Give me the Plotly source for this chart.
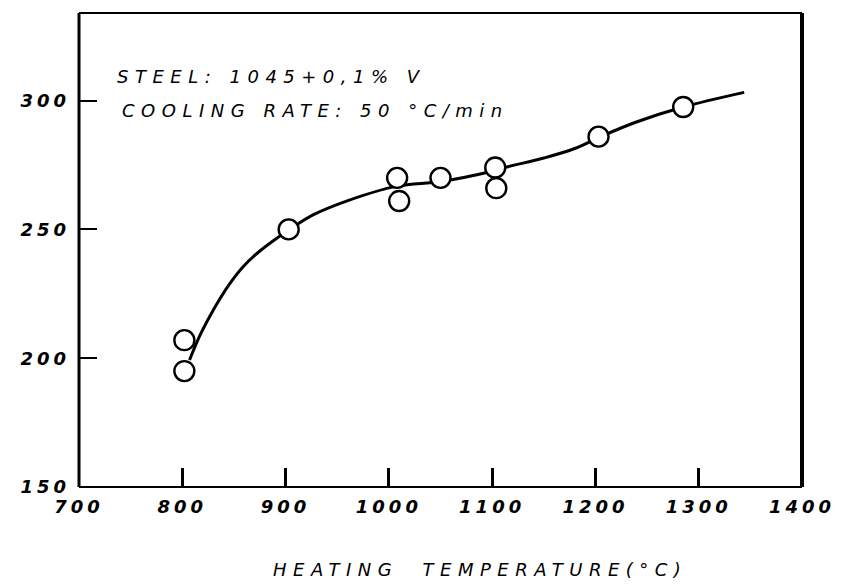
import plotly.graph_objects as go

# ---- data ----
temp_pts = [802, 802, 903, 1008, 1010, 1050, 1103, 1104, 1203, 1285]
hard_pts = [207, 195, 250, 270, 261, 270, 274, 266, 286, 297.5]

curve_temp = [807, 818, 831, 845, 860, 876, 893, 904, 927, 959, 1008, 1050, 1100, 1114,
              1150, 1180, 1205, 1239, 1285, 1344]
curve_hard = [199.3, 209.6, 219.4, 228.4, 236.0, 241.9, 247.0, 250.0, 255.7, 261.0, 266.8, 268.6, 272.6, 274.2,
              277.7, 281.4, 286.0, 291.6, 297.5, 303.2]

x_ticks = [700, 800, 900, 1000, 1100, 1200, 1300, 1400]
x_tick_labels = ["700", "800", "900", "1000", "1100", "1200", "1300", "1400"]
y_ticks = [150, 200, 250, 300]
y_tick_labels = ["150", "200", "250", "300"]

note_1 = "STEEL: 1045+0,1% V"
note_2 = "COOLING RATE: 50 °C/min"
x_title = "HEATING  TEMPERATURE(°C)"


def spaced(txt, px):
    return f'<span style="letter-spacing:{px}px">{txt}</span>'


fig = go.Figure()
fig.add_trace(go.Scatter(
    x=curve_temp, y=curve_hard, mode="lines",
    line=dict(color="black", width=3, shape="spline", smoothing=1.0),
    hoverinfo="skip", showlegend=False))
fig.add_trace(go.Scatter(
    x=temp_pts, y=hard_pts, mode="markers",
    marker=dict(symbol="circle", size=20, color="white",
                line=dict(color="black", width=2.4)),
    showlegend=False))

tickfont = dict(family="DejaVu Sans", size=18, color="black", style="italic", weight="bold")

fig.update_xaxes(
    range=[700, 1400], showgrid=False, zeroline=False,
    tickmode="array", tickvals=x_ticks,
    ticktext=[spaced(t, 4) for t in x_tick_labels],
    ticks="inside", ticklen=19, tickwidth=2.5, tickcolor="black",
    tickfont=tickfont, ticklabelstandoff=7, showline=False)
fig.update_yaxes(
    range=[150, 334], showgrid=False, zeroline=False,
    tickmode="array", tickvals=y_ticks,
    ticktext=[spaced(t, 4) for t in y_tick_labels],
    ticks="inside", ticklen=18, tickwidth=2, tickcolor="black",
    tickfont=tickfont, ticklabelstandoff=8, showline=False)

# frame
frame = [
    dict(x0=0, x1=0, y0=0, y1=1, w=3),
    dict(x0=1, x1=1, y0=0, y1=1, w=4),
    dict(x0=0, x1=1, y0=1, y1=1, w=2),
    dict(x0=0, x1=1, y0=0, y1=0, w=2),
]
for f in frame:
    fig.add_shape(type="line", xref="paper", yref="paper",
                  x0=f["x0"], x1=f["x1"], y0=f["y0"], y1=f["y1"],
                  line=dict(color="black", width=f["w"]))

notefont = dict(family="DejaVu Sans", size=18, color="black", style="italic")
fig.add_annotation(xref="paper", yref="paper", x=0.05, y=0.865,
                   xanchor="left", yanchor="middle", showarrow=False,
                   text=spaced(note_1, 6.5), font=notefont)
fig.add_annotation(xref="paper", yref="paper", x=0.057, y=0.795,
                   xanchor="left", yanchor="middle", showarrow=False,
                   text=spaced(note_2, 6.5), font=notefont)
fig.add_annotation(xref="paper", yref="paper", x=0.555, y=-0.175,
                   xanchor="center", yanchor="middle", showarrow=False,
                   text=spaced(x_title, 6.5), font=notefont)

# page body has an 8px margin; size the figure so the plot frame lands where the reference has it
fig.update_layout(
    width=839, height=576,
    margin=dict(l=71, r=45, t=5, b=97),
    paper_bgcolor="white", plot_bgcolor="white",
)

fig.write_html("out.html")
